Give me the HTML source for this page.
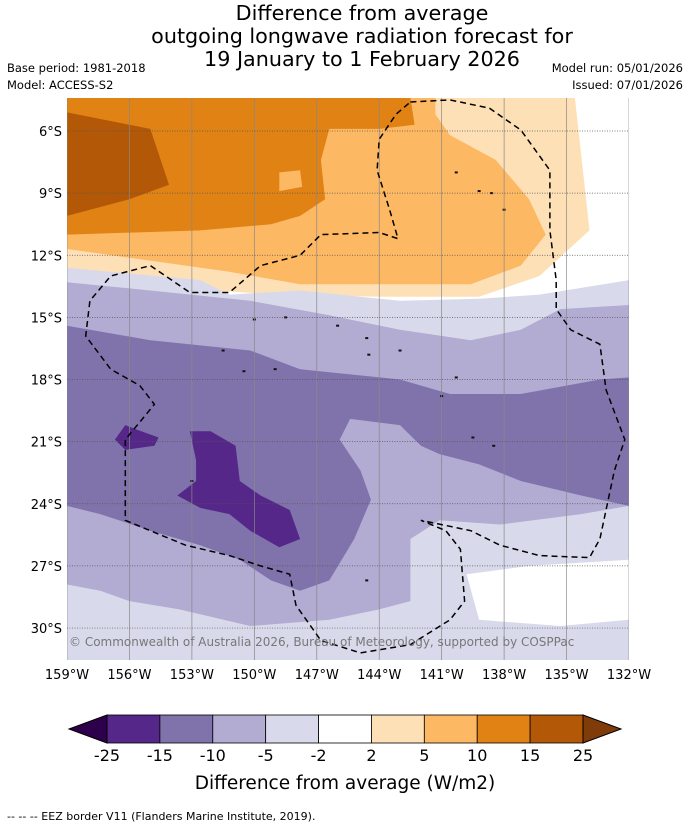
<!DOCTYPE html>
<html><head><meta charset="utf-8">
<style>
body{margin:0;background:#fff;font-family:"Liberation Sans",sans-serif;}
svg text{font-family:"DejaVu Sans","Liberation Sans",sans-serif;}
</style></head>
<body>
<svg id="chart" width="690" height="827" viewBox="0 0 690 827" xmlns="http://www.w3.org/2000/svg">
<rect width="690" height="827" fill="#fff"/>
<g text-anchor="middle" font-size="20.7" fill="#000">
<text x="362" y="20">Difference from average</text>
<text x="362" y="43">outgoing longwave radiation forecast for</text>
<text x="362" y="66">19 January to 1 February 2026</text>
</g>
<g font-size="11.5" fill="#000">
<text x="7" y="72">Base period: 1981-2018</text>
<text x="7" y="89">Model: ACCESS-S2</text>
<text x="683" y="72" text-anchor="end">Model run: 05/01/2026</text>
<text x="683" y="89" text-anchor="end">Issued: 07/01/2026</text>
</g>
<defs><clipPath id="mapclip"><rect x="67" y="98" width="562" height="562"/></clipPath></defs>
<g id="map" clip-path="url(#mapclip)"></g>
<g id="axes"></g>
<text x="69" y="646" font-size="12" fill="#777">© Commonwealth of Australia 2026, Bureau of Meteorology, supported by COSPPac</text>
<g id="cbar"></g>
<text x="345" y="789" font-size="18.5" text-anchor="middle">Difference from average (W/m2)</text>
<text x="7" y="820" font-size="11">--  --  -- EEZ border V11 (Flanders Marine Institute, 2019).</text>
</svg>
<script>
const lonTicks=[159,156,153,150,147,144,141,138,135,132];
const latTicks=[6,9,12,15,18,21,24,27,30];
const levels=[-25,-15,-10,-5,-2,2,5,10,15,25];
const levelColors=["#542788","#8073ac","#b2abd2","#d8daeb","#ffffff","#fee0b6","#fdb863","#e08214","#b35806"];
const paleOrange=[[159,4.4],[134.6,4.4],[133.9,10.8],[136.3,13.0],[139.2,14.0],[144,14.0],[148.8,13.9],[153.6,13.6],[159,12.6]];
const lightOrange=[[159,4.4],[141.3,4.4],[141.3,5.2],[140.6,6.2],[138.4,7.4],[136.8,9.3],[136.0,11.0],[137.2,12.5],[139.6,13.4],[147.8,13.4],[151.2,12.8],[159,11.7]];
const orange=[[159,4.4],[142.5,4.4],[142.3,5.7],[144,5.9],[146.4,5.9],[146.8,7.4],[146.6,9.3],[147.8,10.1],[149.2,10.5],[152.6,10.8],[159,11.0]];
const orangeSpot=[[148.8,8.0],[147.8,7.9],[147.7,8.7],[148.8,8.9]];
const darkOrange=[[159,5.1],[155,5.9],[154.1,8.6],[156,9.3],[159,10.1]];
const palePurple=[[159,12.6],[152.6,13.2],[151.2,13.9],[147.8,13.7],[143,14.2],[139.2,14.1],[136.3,13.9],[132,13.2],[132,31.6],[159,31.6]];
const lightPurple=[[159,13.3],[155,13.7],[150.2,14.2],[146.4,14.9],[143,15.6],[139.6,16.1],[137.2,15.6],[135.3,14.6],[132,14.4],[132,24.1],[134.3,24.5],[138.2,25.0],[141.1,24.8],[142.5,25.7],[142.5,28.7],[144,29.1],[146.4,29.6],[150.2,29.9],[153.6,29.1],[156,28.7],[157.4,28.2],[159,27.9]];
const whitePatch=[[139.8,27.4],[136.8,27.0],[132,26.7],[132,29.6],[135.3,29.9],[139.2,29.6]];
const midPurple=[[159,15.4],[155,16.1],[150.2,16.6],[147.8,17.5],[143,18.0],[140.6,18.7],[137.2,18.7],[133.4,18.0],[132,17.9],[132,24.1],[134.3,23.6],[137.2,22.9],[139.2,22.1],[141.1,21.6],[142,21.2],[143,20.2],[145.4,19.9],[145.9,20.9],[144.9,22.4],[144.4,23.8],[145.2,25.7],[146.4,27.7],[147.8,28.2],[149.2,27.7],[150.7,26.7],[152.6,26.0],[155,25.3],[157.4,24.5],[159,24.1]];
const darkPurpleA=[[153.1,20.5],[152.1,20.5],[150.9,21.2],[150.7,22.9],[149.7,23.6],[148.3,24.3],[147.8,25.7],[148.8,26.1],[150.2,25.3],[151.2,24.5],[152.6,24.2],[153.7,23.6],[152.8,22.9],[152.8,21.9]];
const darkPurpleB=[[156.7,20.9],[156.2,20.2],[155.7,20.4],[154.6,20.8],[154.8,21.2],[156.2,21.4]];
const eez=[[142.5,4.6],[140.6,4.5],[138.7,4.9],[137.2,5.95],[135.8,7.9],[135.8,10.8],[135.5,13.2],[135.5,14.6],[134.8,15.6],[133.4,16.3],[133.1,18.5],[132.2,20.9],[132.7,22.4],[133.4,25.7],[133.9,26.6],[136.3,26.5],[138.2,26.0],[139.6,25.3],[142,24.8],[140.8,25.3],[140.1,26.2],[139.9,28.7],[140.6,29.6],[142.5,30.8],[144.9,31.2],[146.8,30.6],[148,28.9],[148.3,27.4],[149.7,27.0],[151.2,26.5],[153.3,26.0],[155,25.3],[156.2,24.8],[156.2,20.9],[154.8,19.2],[155.5,18.3],[156.9,17.5],[158.1,15.9],[157.9,14.2],[156.9,13.0],[155,12.5],[153.1,13.8],[151.2,13.8],[149.7,12.5],[147.8,12.0],[146.8,11.0],[144,10.9],[143.1,11.2],[143.5,9.8],[144.1,7.9],[144,6.4],[143.2,5.2],[142.5,4.6]];
const islands=[[140.3,8.0],[139.2,8.9],[138.6,9.0],[138.0,9.8],[150.0,15.1],[148.5,15.0],[146.0,15.4],[144.6,16.0],[151.5,16.6],[150.5,17.6],[149.0,17.5],[144.5,16.8],[143.0,16.6],[140.3,17.9],[139.5,20.8],[138.5,21.2],[141.0,18.8],[144.6,27.7],[153.0,22.9]];

const NS="http://www.w3.org/2000/svg";
const X=lon=>67+(159-lon)*20.815;
const Y=lat=>131+(lat-6)*20.71;
const map=document.getElementById('map');
function poly(pts,fill,name){
  const p=document.createElementNS(NS,'polygon');
  p.setAttribute('points',pts.map(d=>X(d[0]).toFixed(1)+','+Y(d[1]).toFixed(1)).join(' '));
  p.setAttribute('fill',fill);
  
  
  map.appendChild(p);
}
poly(paleOrange,"#fee0b6","contour-2-5");
poly(lightOrange,"#fdb863","contour-5-10");
poly(orange,"#e08214","contour-10-15");
poly(orangeSpot,"#fdb863","contour-5-10-spot");
poly(darkOrange,"#b35806","contour-15-25");
poly(palePurple,"#d8daeb","contour-minus5-minus2");
poly(lightPurple,"#b2abd2","contour-minus10-minus5");
poly(whitePatch,"#ffffff","contour-near-zero");
poly(midPurple,"#8073ac","contour-minus15-minus10");
poly(darkPurpleA,"#542788","contour-minus25-minus15-a");
poly(darkPurpleB,"#542788","contour-minus25-minus15-b");
islands.forEach(d=>{
  const c=document.createElementNS(NS,'rect');
  c.setAttribute('x',X(d[0])-1.5);c.setAttribute('y',Y(d[1])-1);
  c.setAttribute('width',3);c.setAttribute('height',2);c.setAttribute('fill','#111');
  
  
  map.appendChild(c);
});
const ax=document.getElementById('axes');
lonTicks.forEach(l=>{
  const ln=document.createElementNS(NS,'line');
  ln.setAttribute('x1',X(l));ln.setAttribute('x2',X(l));ln.setAttribute('y1',98);ln.setAttribute('y2',660);
  ln.setAttribute('stroke','#888');ln.setAttribute('stroke-width','0.7');
  
  
  map.appendChild(ln);
  const t=document.createElementNS(NS,'text');
  t.setAttribute('x',X(l));t.setAttribute('y',679);t.setAttribute('font-size','13');t.setAttribute('text-anchor','middle');
  t.textContent=l+'°W';
  
  
  ax.appendChild(t);
});
latTicks.forEach(l=>{
  const ln=document.createElementNS(NS,'line');
  ln.setAttribute('x1',67);ln.setAttribute('x2',629);ln.setAttribute('y1',Y(l));ln.setAttribute('y2',Y(l));
  ln.setAttribute('stroke','#555');ln.setAttribute('stroke-width','0.7');ln.setAttribute('stroke-dasharray','1,1.5');
  
  
  map.appendChild(ln);
  const t=document.createElementNS(NS,'text');
  t.setAttribute('x',62);t.setAttribute('y',Y(l)+5);t.setAttribute('font-size','13');t.setAttribute('text-anchor','end');
  t.textContent=l+'°S';
  
  
  ax.appendChild(t);
});
const e=document.createElementNS(NS,'polyline');
e.setAttribute('points',eez.map(d=>X(d[0]).toFixed(1)+','+Y(d[1]).toFixed(1)).join(' '));
e.setAttribute('fill','none');e.setAttribute('stroke','#000');e.setAttribute('stroke-width','1.5');e.setAttribute('stroke-dasharray','6,4');


map.appendChild(e);
const cb=document.getElementById('cbar');
const cx0=107,cx1=583,cy=715,ch=28,cw=(cx1-cx0)/levelColors.length;
levelColors.forEach((c,i)=>{
  const r=document.createElementNS(NS,'rect');
  r.setAttribute('x',cx0+i*cw);r.setAttribute('y',cy);r.setAttribute('width',cw);r.setAttribute('height',ch);
  r.setAttribute('fill',c);r.setAttribute('stroke','#000');r.setAttribute('stroke-width','0.8');
  
  
  cb.appendChild(r);
});
const tl=document.createElementNS(NS,'polygon');
tl.setAttribute('points',`${cx0},${cy} ${cx0},${cy+ch} 69,${cy+ch/2}`);tl.setAttribute('fill','#2d004b');tl.setAttribute('stroke','#000');


cb.appendChild(tl);
const tr=document.createElementNS(NS,'polygon');
tr.setAttribute('points',`${cx1},${cy} ${cx1},${cy+ch} 621,${cy+ch/2}`);tr.setAttribute('fill','#7f3b08');tr.setAttribute('stroke','#000');


cb.appendChild(tr);
levels.forEach((v,i)=>{
  const t=document.createElementNS(NS,'text');
  t.setAttribute('x',cx0+i*cw);t.setAttribute('y',761);t.setAttribute('font-size','16');t.setAttribute('text-anchor','middle');
  t.textContent=v;
  
  
  cb.appendChild(t);
});
</script>
</body></html>
